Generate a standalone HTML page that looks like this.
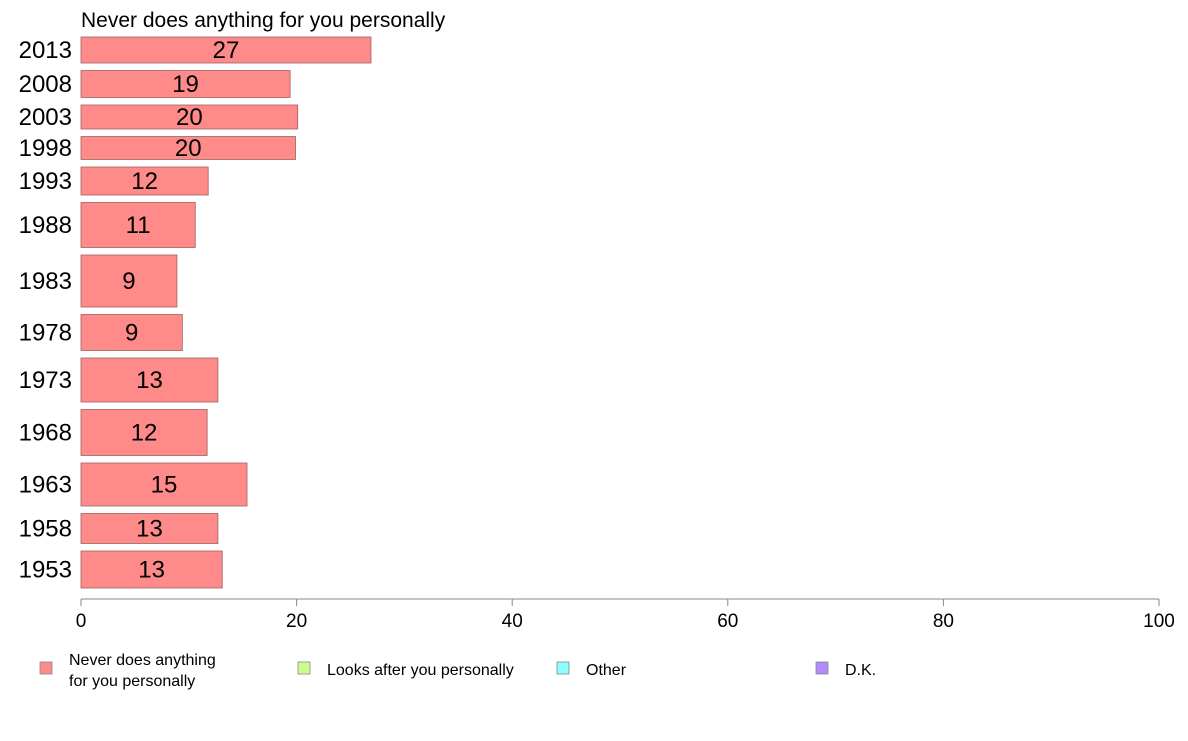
<!DOCTYPE html>
<html><head><meta charset="utf-8"><style>
body{margin:0;background:#fff;font-family:"Liberation Sans",Arial,sans-serif;}
svg text{font-family:"Liberation Sans",Arial,sans-serif;}
</style></head><body>
<svg id="chart" width="1188" height="736" xmlns="http://www.w3.org/2000/svg">
<text x="81" y="27" font-size="21" fill="#000">Never does anything for you personally</text>
<g id="bars"></g>
<g id="axis"></g>
<g id="legend">
<g><rect x="40" y="662" width="12" height="12" fill="#ff8a8a" stroke="#888" stroke-width="0.8"/><text x="69" y="665" font-size="16">Never does anything</text><text x="69" y="686" font-size="16">for you personally</text></g>
<g><rect x="298" y="662" width="12" height="12" fill="#c8ff8a" stroke="#888" stroke-width="0.8"/><text x="327" y="675" font-size="16">Looks after you personally</text></g>
<g><rect x="557" y="662" width="12" height="12" fill="#8affff" stroke="#888" stroke-width="0.8"/><text x="586" y="675" font-size="16">Other</text></g>
<g><rect x="816" y="662" width="12" height="12" fill="#b48aff" stroke="#888" stroke-width="0.8"/><text x="845" y="675" font-size="16">D.K.</text></g>
</g>
</svg>
<script>
const years=["2013","2008","2003","1998","1993","1988","1983","1978","1973","1968","1963","1958","1953"];
const values=[26.9,19.4,20.1,19.9,11.8,10.6,8.9,9.4,12.7,11.7,15.4,12.7,13.1];
const labels=["27","19","20","20","12","11","9","9","13","12","15","13","13"];
const weights=[26,27,24,23,28,45,52,36,44,46,43,30,37];
const ticks=[0,20,40,60,80,100];
const NS="http://www.w3.org/2000/svg";
const x0=81,x1=1159,yTop=37,yBot=588;
const xs=v=>x0+(x1-x0)*v/100;
const gap=(yBot-yTop-weights.reduce((a,b)=>a+b,0))/(weights.length-1);
const tot=weights.reduce((a,b)=>a+b,0);
const scaleH=(yBot-yTop-gap*(weights.length-1))/tot;
const bars=document.getElementById('bars');
let y=yTop;
function mk(t,a){const e=document.createElementNS(NS,t);for(const k in a)e.setAttribute(k,a[k]);return e;}
years.forEach((yr,i)=>{
 const h=weights[i]*scaleH;
 const r=mk('rect',{x:x0,y:y,width:xs(values[i])-x0,height:h,fill:'#ff8a8a',stroke:'#a06060','stroke-width':0.8});
 
 
 bars.appendChild(r);
 const t=mk('text',{x:(x0+xs(values[i]))/2,y:y+h/2+8,'font-size':24,'text-anchor':'middle'});
 t.textContent=labels[i];
 
 
 bars.appendChild(t);
 const yl=mk('text',{x:72,y:y+h/2+8,'font-size':24,'text-anchor':'end'});
 yl.textContent=yr;
 
 
 bars.appendChild(yl);
 y+=h+gap;
});
const ax=document.getElementById('axis');


ax.appendChild(mk('line',{x1:x0,x2:x1,y1:599,y2:599,stroke:'#888'}));
ticks.forEach(v=>{
 ax.appendChild(mk('line',{x1:xs(v),x2:xs(v),y1:599,y2:606,stroke:'#888'}));
 const t=mk('text',{x:xs(v),y:627,'font-size':19,'text-anchor':'middle'});
 t.textContent=v;
 
 
 ax.appendChild(t);
});
</script>
</body></html>
